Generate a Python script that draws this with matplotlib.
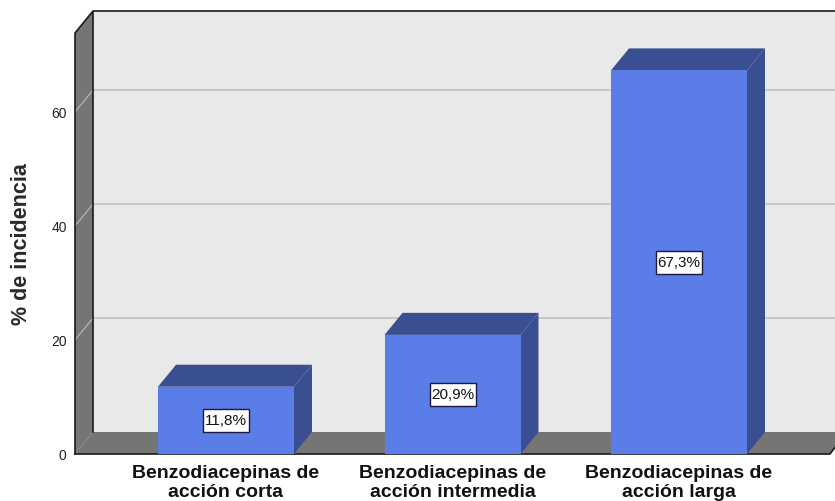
import matplotlib.pyplot as plt
from matplotlib.patches import Polygon, Rectangle

plt.rcParams["font.family"] = ["Liberation Sans", "DejaVu Sans"]

categories = ["Benzodiacepinas de\nacción corta", "Benzodiacepinas de\nacción intermedia", "Benzodiacepinas de\nacción larga"]
values = [11.8, 20.9, 67.3]
labels = ["11,8%", "20,9%", "67,3%"]
y_ticks = [0, 20, 40, 60]

W, H = 835, 502
LEFT, BOTTOM, TOP = 75, 455, 12
PX_Y = 5.7
PX_X = 226.5
X0 = 226

# profundidad del efecto 3D, en unidades de los ejes
DX = 18 / PX_X
DY = 22 / PX_Y
BAR_W = 136 / PX_X
CUT = 5 / PX_X
BOX_W = 46 / PX_X
BOX_H = 23 / PX_Y

FRONT = "#5b7de8"
DARK = "#3a4f91"
WALL = "#e9e9e9"
FLOOR = "#757575"
LINE = "#1a1a1a"
GRID = "#b4b4b4"

fig = plt.figure(figsize=(W / 100, H / 100), dpi=100)
ax = fig.add_axes([LEFT / W, (H - BOTTOM) / H, (W - LEFT) / W, (BOTTOM - TOP) / H])
xmin = (LEFT - X0) / PX_X
xmax = (W - X0) / PX_X
ymax = (BOTTOM - TOP) / PX_Y
ax.set_xlim(xmin, xmax)
ax.set_ylim(0, ymax)
ax.patch.set_visible(False)
for s in ax.spines.values():
    s.set_visible(False)

# paredes
ax.add_patch(Polygon([(xmin + DX, DY), (xmax, DY), (xmax, ymax), (xmin + DX, ymax)], fc=WALL, ec="none", zorder=1))
ax.add_patch(Polygon([(xmin, 0), (xmin + DX, DY), (xmin + DX, ymax), (xmin, ymax - DY)], fc=FLOOR, ec="none", zorder=1))
ax.add_patch(Polygon([(xmin, 0), (xmin + DX, DY), (xmax, DY), (xmax, DY * 0.3), (xmax - CUT, 0)], fc=FLOOR, ec="none", zorder=1))

for t in y_ticks[1:]:
    ax.plot([xmin, xmin + DX, xmax], [t, t + DY, t + DY], color=GRID, lw=0.9, zorder=2)

# marco
ax.plot([xmin, xmin, xmin + DX, xmax], [0, ymax - DY, ymax, ymax], color=LINE, lw=1.2, zorder=3, clip_on=False)
ax.plot([xmin + DX, xmin + DX], [DY, ymax], color=LINE, lw=1.2, zorder=3)
ax.plot([xmin, xmax - CUT, xmax], [0, 0, DY * 0.3], color=LINE, lw=1.2, zorder=3, clip_on=False)

# barras
for i, v in enumerate(values):
    l, r = i - BAR_W / 2, i + BAR_W / 2
    ax.add_patch(Polygon([(l, v), (l + DX, v + DY), (r + DX, v + DY), (r, v)], fc=DARK, ec="none", zorder=4))
    ax.add_patch(Polygon([(r, 0), (r + DX, DY), (r + DX, v + DY), (r, v)], fc=DARK, ec="none", zorder=4))
    ax.add_patch(Polygon([(l, 0), (r, 0), (r, v), (l, v)], fc=FRONT, ec="none", zorder=5))
    ax.add_patch(Rectangle((i - BOX_W / 2, v / 2 - BOX_H / 2), BOX_W, BOX_H, fc="white", ec="#1a1a3a", lw=1, zorder=6))
    ax.text(i, v / 2, labels[i], ha="center", va="center", fontsize=11, color="#111111", zorder=7)

ax.set_yticks(y_ticks)
ax.set_xticks(range(len(categories)))
ax.set_xticklabels(categories, fontsize=14, fontweight="bold", linespacing=1.15, color="#111111")
ax.tick_params(axis="both", length=0)
ax.tick_params(axis="x", pad=7)
ax.tick_params(axis="y", labelsize=10, pad=6, labelcolor="#222222")
fig.text(22 / W, 1 - 244 / H, "% de incidencia", rotation=90, ha="center", va="center", fontsize=15.5, fontweight="bold", color="#2a2a2a")

fig.savefig("out.png", dpi=100)
